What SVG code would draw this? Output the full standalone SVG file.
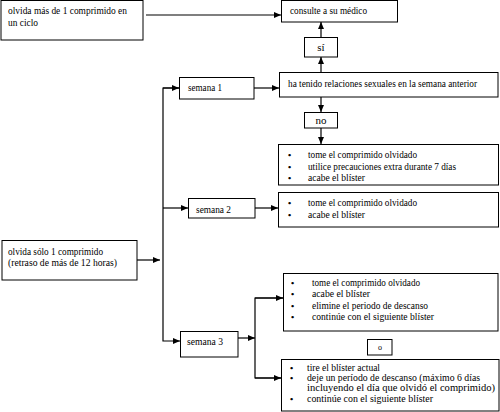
<svg xmlns="http://www.w3.org/2000/svg" width="500" height="412" viewBox="0 0 500 412">
<defs>
<marker id="ah" markerWidth="7" markerHeight="6" refX="7" refY="3" orient="auto" markerUnits="userSpaceOnUse">
<path d="M0,0 L7,3 L0,6 z" fill="#000"/>
</marker>
<style>
rect{fill:#fff;stroke:#000;stroke-width:1}
text{font-family:"Liberation Serif","Times New Roman",serif;font-size:10px;fill:#000}
.b{font-size:9px;font-weight:bold}
.c{text-anchor:middle;font-size:11px}
.con line,.con polyline{stroke:#000;stroke-width:1.2;fill:none}
</style>
</defs>
<rect width="500" height="412" style="fill:#fff;stroke:none"/>
<g class="con">
<line x1="146" y1="15" x2="281" y2="15" marker-end="url(#ah)"/>
<line x1="321" y1="72" x2="321" y2="57" marker-end="url(#ah)"/>
<line x1="321" y1="37" x2="321" y2="22" marker-end="url(#ah)"/>
<line x1="321" y1="97" x2="321" y2="112" marker-end="url(#ah)"/>
<line x1="321" y1="128" x2="321" y2="144" marker-end="url(#ah)"/>
<line x1="254" y1="88" x2="279" y2="88" marker-end="url(#ah)"/>
<line x1="255" y1="208" x2="278" y2="208" marker-end="url(#ah)"/>
<line x1="137" y1="260" x2="160" y2="260" marker-end="url(#ah)"/>
<polyline points="179,88 163,88 163,341 180,341" marker-end="url(#ah)"/>
<line x1="163" y1="88" x2="179" y2="88" marker-end="url(#ah)"/>
<line x1="163" y1="208" x2="188" y2="208" marker-end="url(#ah)"/>
<line x1="238" y1="338" x2="255" y2="338" marker-end="url(#ah)"/>
<polyline points="283,298 255,298 255,378 281,378"/>
<line x1="255" y1="298" x2="283" y2="298" marker-end="url(#ah)"/>
<line x1="255" y1="378" x2="281" y2="378" marker-end="url(#ah)"/>
</g>
<g id="n-mas">
<rect x="1" y="0.5" width="142" height="39.5"/>
<text x="8" y="14" textLength="119" lengthAdjust="spacingAndGlyphs">olvida más de 1 comprimido en</text>
<text x="8" y="26" textLength="30" lengthAdjust="spacingAndGlyphs">un ciclo</text>
</g>
<g id="n-consulte">
<rect x="281.5" y="0.5" width="116" height="21.5"/>
<text x="290" y="14" textLength="77" lengthAdjust="spacingAndGlyphs">consulte a su médico</text>
</g>
<g id="n-si">
<rect x="304.5" y="37.5" width="33" height="19.5"/>
<text class="c" x="321" y="51">sí</text>
</g>
<g id="n-hatenido">
<rect x="279.5" y="72.5" width="218.5" height="24.5"/>
<text x="288" y="87" textLength="189" lengthAdjust="spacingAndGlyphs">ha tenido relaciones sexuales en la semana anterior</text>
</g>
<g id="n-no">
<rect x="304.5" y="112.5" width="33" height="15.5"/>
<text class="c" x="321" y="124">no</text>
</g>
<g id="n-res1">
<rect x="278.5" y="144.5" width="220" height="40.5"/>
<text class="b" x="288" y="158">•</text><text x="308" y="158" textLength="109" lengthAdjust="spacingAndGlyphs">tome el comprimido olvidado</text>
<text class="b" x="288" y="170">•</text><text x="308" y="170" textLength="148" lengthAdjust="spacingAndGlyphs">utilice precauciones extra durante 7 días</text>
<text class="b" x="288" y="181">•</text><text x="308" y="181" textLength="57" lengthAdjust="spacingAndGlyphs">acabe el blíster</text>
</g>
<g id="n-res2">
<rect x="278.5" y="192.5" width="220" height="34.5"/>
<text class="b" x="288" y="206">•</text><text x="308" y="206" textLength="109" lengthAdjust="spacingAndGlyphs">tome el comprimido olvidado</text>
<text class="b" x="288" y="218">•</text><text x="308" y="218" textLength="57" lengthAdjust="spacingAndGlyphs">acabe el blíster</text>
</g>
<g id="n-semana1">
<rect x="179.5" y="77.5" width="74.5" height="21.5"/>
<text x="188" y="91" textLength="34" lengthAdjust="spacingAndGlyphs">semana 1</text>
</g>
<g id="n-semana2">
<rect x="188.5" y="198.5" width="66.5" height="19.5"/>
<text x="196" y="213" textLength="35" lengthAdjust="spacingAndGlyphs">semana 2</text>
</g>
<g id="n-solo">
<rect x="2" y="240.5" width="135" height="39.5"/>
<text x="8" y="255" textLength="95" lengthAdjust="spacingAndGlyphs">olvida sólo 1 comprimido</text>
<text x="8" y="266" textLength="109" lengthAdjust="spacingAndGlyphs">(retraso de más de 12 horas)</text>
</g>
<g id="n-semana3">
<rect x="180.5" y="331.5" width="57.5" height="25.5"/>
<text x="187" y="345" textLength="36" lengthAdjust="spacingAndGlyphs">semana 3</text>
</g>
<g id="n-res3a">
<rect x="283.5" y="273.5" width="214.5" height="57.5"/>
<text class="b" x="291" y="286">•</text><text x="312" y="286" textLength="108" lengthAdjust="spacingAndGlyphs">tome el comprimido olvidado</text>
<text class="b" x="291" y="297">•</text><text x="312" y="297" textLength="58" lengthAdjust="spacingAndGlyphs">acabe el blíster</text>
<text class="b" x="291" y="309">•</text><text x="312" y="309" textLength="116" lengthAdjust="spacingAndGlyphs">elimine el periodo de descanso</text>
<text class="b" x="291" y="320">•</text><text x="312" y="320" textLength="122" lengthAdjust="spacingAndGlyphs">continúe con el siguiente blíster</text>
</g>
<g id="n-o">
<rect x="367.5" y="339.5" width="24.5" height="15.5"/>
<text x="380" y="350" style="text-anchor:middle;font-size:8px">o</text>
</g>
<g id="n-res3b">
<rect x="281.5" y="359.5" width="217.5" height="51.5"/>
<text class="b" x="290" y="371">•</text><text x="307" y="371" textLength="73" lengthAdjust="spacingAndGlyphs">tire el blíster actual</text>
<text class="b" x="290" y="381">•</text><text x="307" y="381" textLength="173" lengthAdjust="spacingAndGlyphs">deje un período de descanso (máximo 6 días</text>
<text x="307" y="391" textLength="188" lengthAdjust="spacingAndGlyphs">incluyendo el día que olvidó el comprimido)</text>
<text class="b" x="290" y="402">•</text><text x="307" y="402" textLength="126" lengthAdjust="spacingAndGlyphs">continúe con el siguiente blíster</text>
</g>
</svg>
